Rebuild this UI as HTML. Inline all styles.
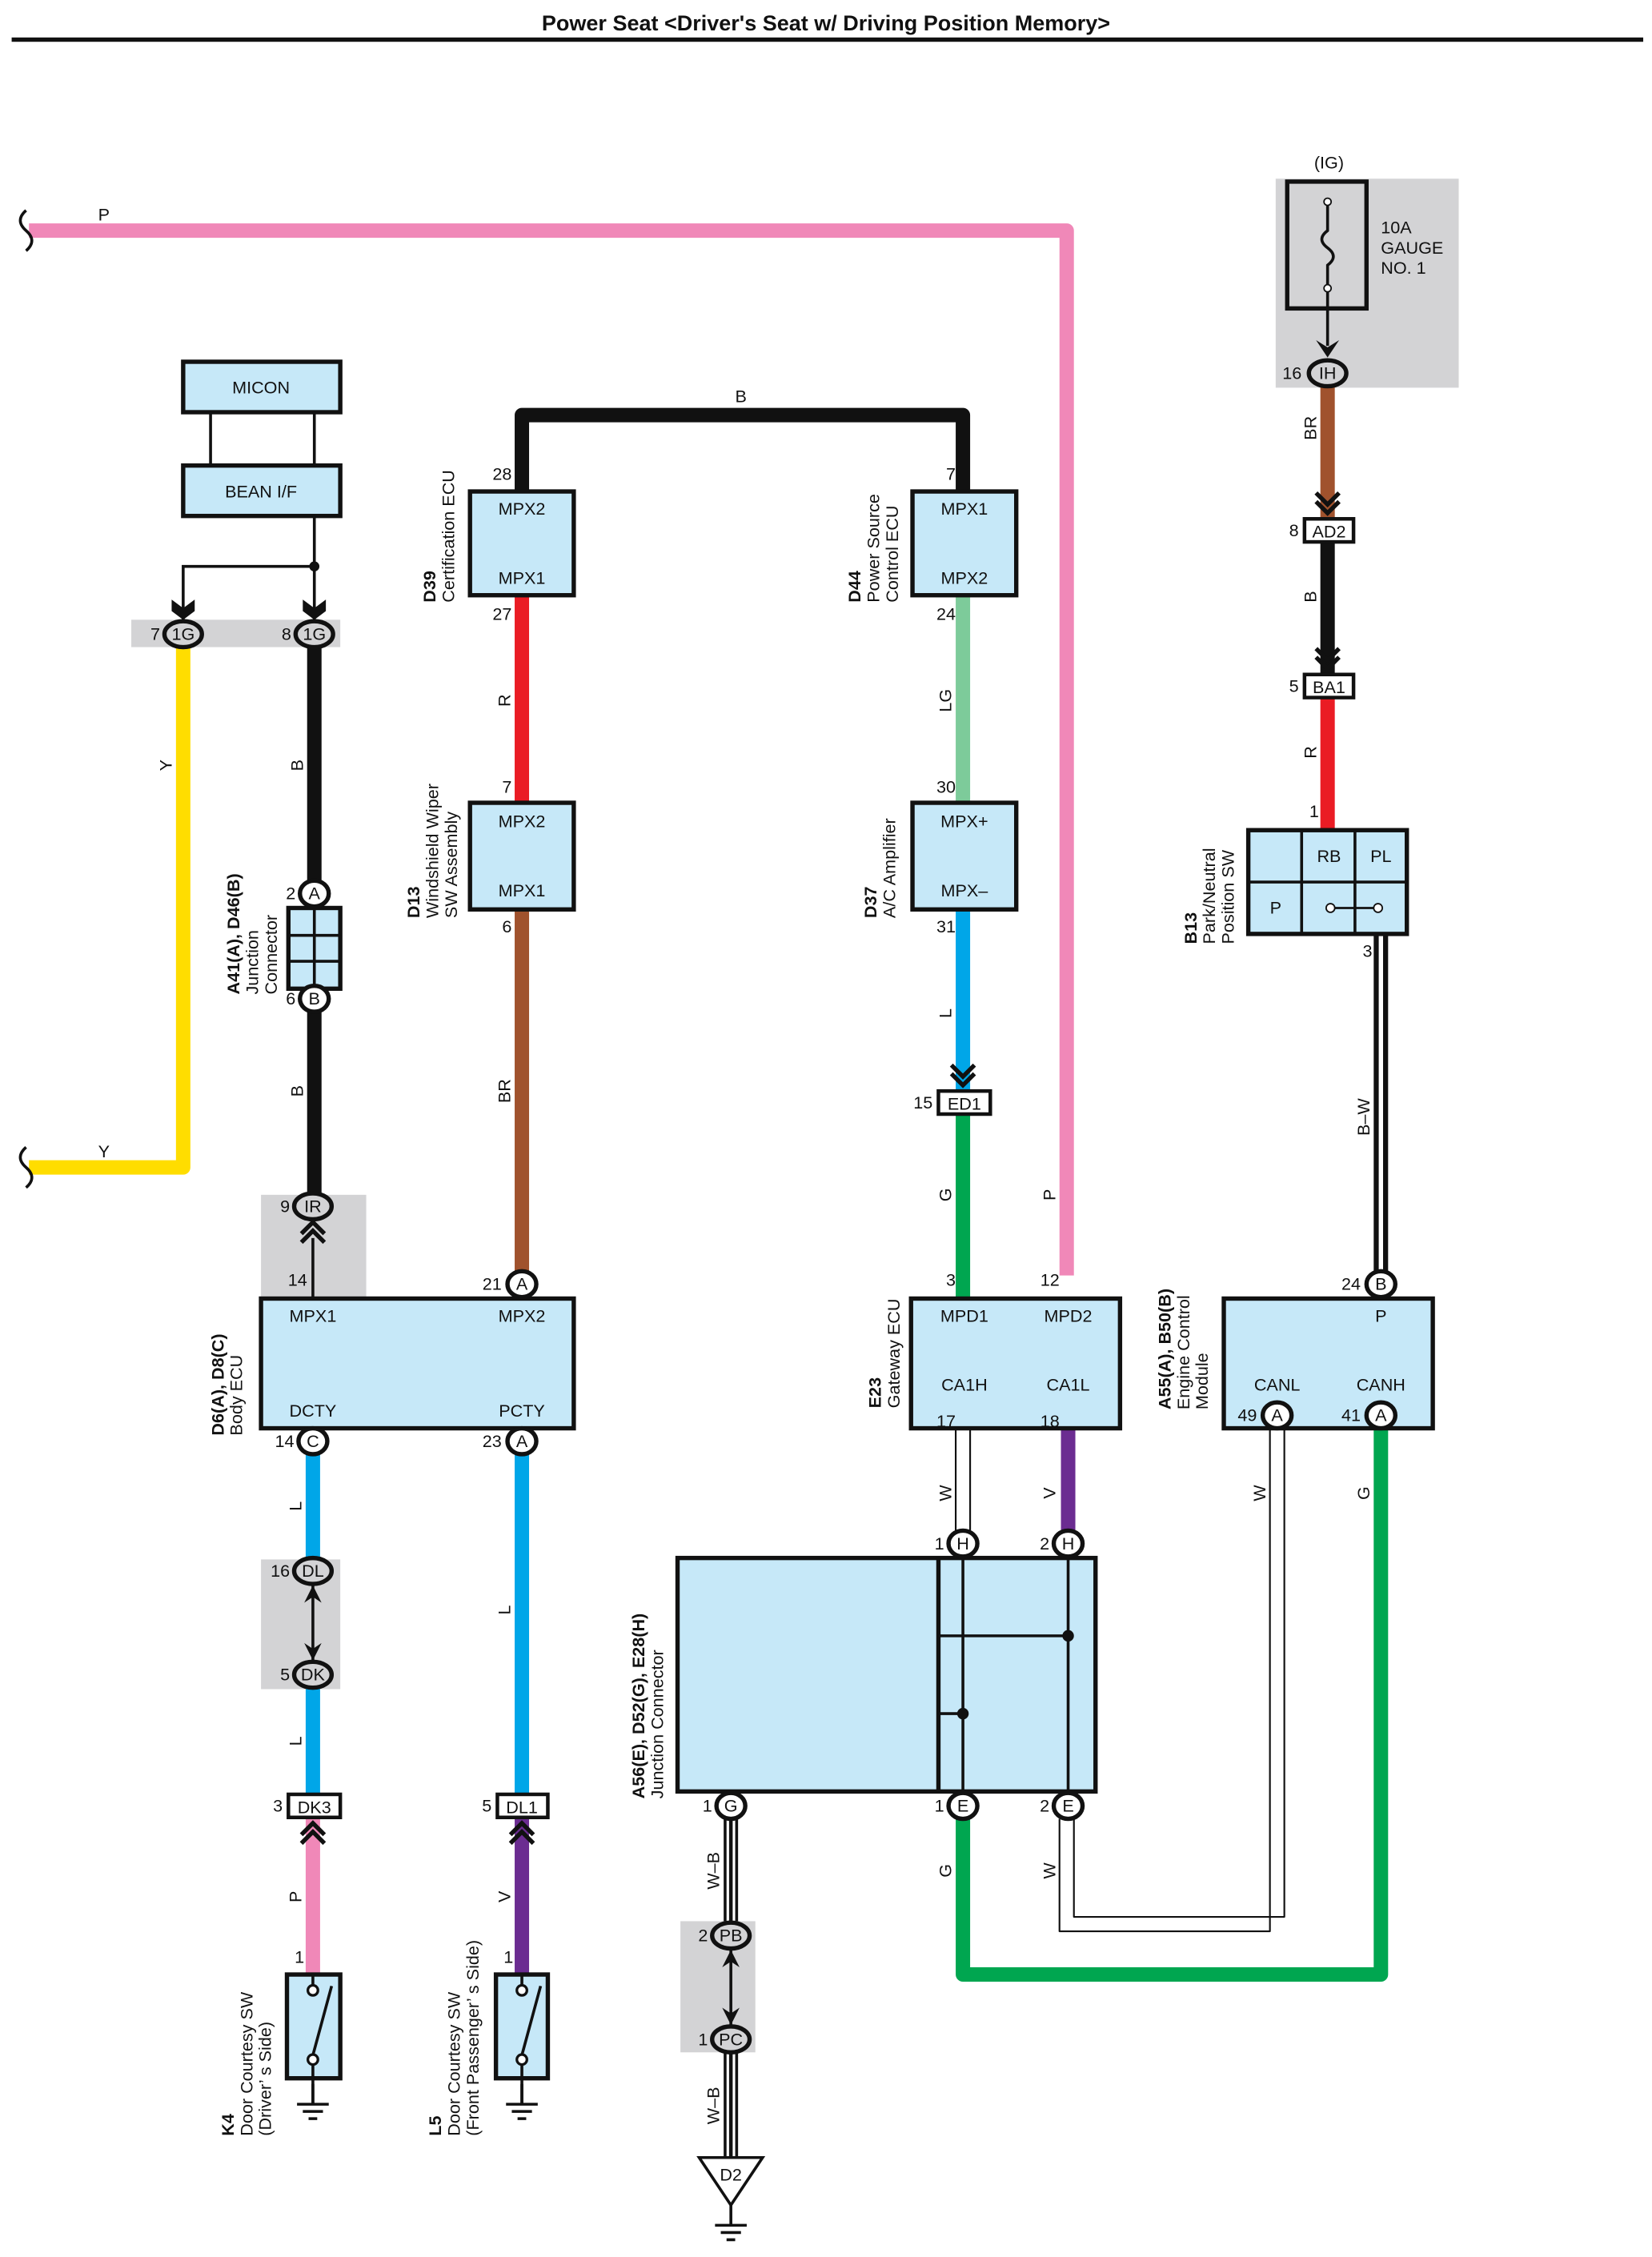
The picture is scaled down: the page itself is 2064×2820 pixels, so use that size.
<!DOCTYPE html>
<html><head><meta charset="utf-8"><style>
html,body{margin:0;padding:0;background:#fff;}
svg{display:block;}
text{font-family:"Liberation Sans",sans-serif;fill:#111;}
</style></head><body>
<svg width="2064" height="2820" viewBox="0 0 1146 1566" xmlns="http://www.w3.org/2000/svg">
<defs>
<g id="chev"><path d="M-8,-14 L0,-6 L8,-14 M-8,-8 L0,0 L8,-8" fill="none" stroke="#111" stroke-width="3"/></g>
<g id="chevU"><path d="M-8,14 L0,6 L8,14 M-8,8 L0,0 L8,8" fill="none" stroke="#111" stroke-width="3"/></g>
<g id="gnd"><path d="M0,0 V14 M-11,14 H11 M-7,19 H7 M-3,24 H3" stroke="#111" stroke-width="2" fill="none"/></g>
</defs>
<rect width="1146" height="1566" fill="#fff"/>
<text x="573" y="21" font-size="15" font-weight="bold" text-anchor="middle">Power Seat &lt;Driver's Seat w/ Driving Position Memory&gt;</text>
<rect x="8" y="26" width="1132" height="3" fill="#111"/>

<rect x="885" y="124" width="127" height="145" fill="#d3d3d5"/>
<rect x="91" y="430" width="145" height="19" fill="#d3d3d5"/>
<rect x="181" y="829" width="73" height="72" fill="#d3d3d5"/>
<rect x="181" y="1082" width="55" height="90" fill="#d3d3d5"/>
<rect x="472" y="1333" width="52" height="91" fill="#d3d3d5"/>

<g fill="none" stroke-linejoin="round" stroke-linecap="butt">
<path d="M20,160 H740 V885" stroke="#f088b8" stroke-width="10"/>
<path d="M362,341 V288 H668 V341" stroke="#111" stroke-width="10"/>
<path d="M362,413 V557" stroke="#ea1c24" stroke-width="10"/>
<path d="M362,631 V885" stroke="#a0522d" stroke-width="10"/>
<path d="M668,413 V557" stroke="#7dcb9a" stroke-width="10"/>
<path d="M668,631 V757" stroke="#00a6e8" stroke-width="10"/>
<path d="M668,773 V901" stroke="#00a650" stroke-width="10"/>
<path d="M741,991 V1062" stroke="#6b2c91" stroke-width="10"/>
<path d="M958,991 V1370 H668 V1262" stroke="#00a650" stroke-width="10"/>
<path d="M921,268 V360" stroke="#a0522d" stroke-width="10"/>
<path d="M921,376 V468" stroke="#111" stroke-width="10"/>
<path d="M921,484 V576" stroke="#ea1c24" stroke-width="10"/>
<path d="M958,648 V885" stroke="#111" stroke-width="10"/>
<path d="M958,648 V885" stroke="#fff" stroke-width="3"/>
<path d="M127,449 V810 H20" stroke="#ffdd00" stroke-width="10"/>
<path d="M218,449 V612" stroke="#111" stroke-width="10"/>
<path d="M218,701 V829" stroke="#111" stroke-width="10"/>
<path d="M217,1009 V1082" stroke="#00a6e8" stroke-width="10"/>
<path d="M217,1172 V1245" stroke="#00a6e8" stroke-width="10"/>
<path d="M217,1261 V1370" stroke="#f088b8" stroke-width="10"/>
<path d="M362,1009 V1245" stroke="#00a6e8" stroke-width="10"/>
<path d="M362,1261 V1370" stroke="#6b2c91" stroke-width="10"/>
<path d="M663,991 V1062 M673,991 V1062" stroke="#111" stroke-width="1.2"/>
<path d="M881,991 V1340 H735 V1262 M891,991 V1330 H745 V1262" stroke="#111" stroke-width="1.2"/>
<path d="M507,1262 V1333 M507,1424 V1497" stroke="#111" stroke-width="10"/>
<path d="M507,1262 V1333 M507,1424 V1497" stroke="#fff" stroke-width="6"/>
<path d="M507,1262 V1333 M507,1424 V1497" stroke="#111" stroke-width="2.5"/>
</g>
<path d="M18,146 Q10,153 18,160 Q26,167 18,174" stroke="#111" stroke-width="2" fill="none"/>
<path d="M18,796 Q10,803 18,810 Q26,817 18,824" stroke="#111" stroke-width="2" fill="none"/>

<g fill="#c6e8f8" stroke="#111" stroke-width="3">
<rect x="127" y="251" width="109" height="35"/>
<rect x="127" y="323" width="109" height="35"/>
<rect x="326" y="341" width="72" height="72"/>
<rect x="326" y="557" width="72" height="74"/>
<rect x="633" y="341" width="72" height="72"/>
<rect x="633" y="557" width="72" height="74"/>
<rect x="181" y="901" width="217" height="90"/>
<rect x="632" y="901" width="145" height="90"/>
<rect x="849" y="901" width="145" height="90"/>
<rect x="866" y="576" width="110" height="72"/>
<rect x="200" y="630" width="36" height="56"/>
<rect x="470" y="1081" width="290" height="162"/>
<rect x="199" y="1370" width="37" height="72"/>
<rect x="344" y="1370" width="36" height="72"/>
</g>
<rect x="893" y="126" width="55" height="88" fill="none" stroke="#111" stroke-width="3"/>
<path d="M921,140 V160 Q913,166 921,172 Q929,178 921,184 V214 L921,240" stroke="#111" stroke-width="2" fill="none"/>
<circle cx="921" cy="140" r="2.5" fill="#fff" stroke="#111"/><circle cx="921" cy="200" r="2.5" fill="#fff" stroke="#111"/>
<path d="M913,236 L921,248 L929,236 L921,241 Z" fill="#111"/>
<g stroke="#111" fill="none">
<path d="M146,286 V323 M218,286 V323" stroke-width="2"/>
<path d="M218,358 V430 M218,393 H127 V430" stroke-width="2"/>
<path d="M903,576 V648 M940,576 V648 M866,612 H976" stroke-width="2"/>
<path d="M923,630 H956" stroke-width="1.5"/>
<path d="M218,630 V686 M200,649 H236 M200,667 H236" stroke-width="2"/>
<path d="M651,1081 V1243" stroke-width="3"/>
<path d="M668,1081 V1243 M741,1081 V1243 M651,1135 H741 M651,1189 H668" stroke-width="2"/>
<path d="M217,859 V901" stroke-width="2"/>
<path d="M217,1098 V1154" stroke-width="2"/>
<path d="M507,1351 V1407" stroke-width="2"/>
</g>
<circle cx="218" cy="393" r="3.5" fill="#111"/>
<circle cx="741" cy="1135" r="4" fill="#111"/>
<circle cx="668" cy="1189" r="4" fill="#111"/>
<circle cx="923" cy="630" r="3" fill="#fff" stroke="#111"/><circle cx="956" cy="630" r="3" fill="#fff" stroke="#111"/>
<path d="M119,416 L127,422 L135,416 L135,424 L127,430 L119,424 Z" fill="#111"/>
<path d="M210,416 L218,422 L226,416 L226,424 L218,430 L210,424 Z" fill="#111"/>
<use href="#chev" x="921" y="356"/>
<use href="#chev" x="921" y="464"/>
<use href="#chev" x="668" y="753"/>
<use href="#chevU" x="217" y="1265"/>
<use href="#chevU" x="362" y="1265"/>
<use href="#chevU" x="217" y="848"/>
<path d="M211,1112 L217,1100 L223,1112 L217,1108Z M211,1140 L217,1152 L223,1140 L217,1144Z" fill="#111"/>
<path d="M501,1365 L507,1353 L513,1365 L507,1361Z M501,1393 L507,1405 L513,1393 L507,1397Z" fill="#111"/>

<g stroke="#111" stroke-width="2" fill="none">
<path d="M217,1370 V1378 M217,1433 V1460 M217,1426 L230,1378"/>
<path d="M362,1370 V1378 M362,1433 V1460 M362,1426 L375,1378"/>
</g>
<g fill="#fff" stroke="#111" stroke-width="1.8">
<circle cx="217" cy="1381" r="3.5"/><circle cx="217" cy="1429" r="3.5"/>
<circle cx="362" cy="1381" r="3.5"/><circle cx="362" cy="1429" r="3.5"/>
</g>
<use href="#gnd" x="217" y="1446"/>
<use href="#gnd" x="362" y="1446"/>
<path d="M485,1497 H529 L507,1530 Z" fill="#fff" stroke="#111" stroke-width="2"/>
<text x="507" y="1513" font-size="12" text-anchor="middle">D2</text>
<use href="#gnd" x="507" y="1530"/>

<g fill="#fff" stroke="#111" stroke-width="2.5">
<rect x="905" y="360" width="34" height="16"/>
<rect x="905" y="468" width="34" height="16"/>
<rect x="651" y="757" width="36" height="16"/>
<rect x="200" y="1245" width="36" height="16"/>
<rect x="345" y="1245" width="35" height="16"/>
</g>
<g font-size="12" text-anchor="middle">
<text x="922" y="373">AD2</text><text x="922" y="481">BA1</text><text x="669" y="770">ED1</text>
<text x="218" y="1258">DK3</text><text x="362" y="1258">DL1</text>
</g>
<g stroke="#111" stroke-width="3">
<g fill="#d3d3d5">
<ellipse cx="127" cy="440" rx="13" ry="9"/><ellipse cx="218" cy="440" rx="13" ry="9"/>
<ellipse cx="921" cy="259" rx="13" ry="9"/><ellipse cx="217" cy="837" rx="13" ry="9"/>
<ellipse cx="217" cy="1090" rx="13" ry="9"/><ellipse cx="217" cy="1162" rx="13" ry="9"/>
<ellipse cx="507" cy="1343" rx="13" ry="9"/><ellipse cx="507" cy="1415" rx="13" ry="9"/>
</g>
<g fill="#fff">
<ellipse cx="218" cy="620" rx="10" ry="9"/><ellipse cx="218" cy="693" rx="10" ry="9"/>
<ellipse cx="362" cy="891" rx="10" ry="9"/><ellipse cx="217" cy="1000" rx="10" ry="9"/><ellipse cx="362" cy="1000" rx="10" ry="9"/>
<ellipse cx="958" cy="891" rx="10" ry="9"/><ellipse cx="886" cy="982" rx="10" ry="9"/><ellipse cx="958" cy="982" rx="10" ry="9"/>
<ellipse cx="668" cy="1071" rx="10" ry="9"/><ellipse cx="741" cy="1071" rx="10" ry="9"/>
<ellipse cx="668" cy="1253" rx="10" ry="9"/><ellipse cx="741" cy="1253" rx="10" ry="9"/><ellipse cx="507" cy="1253" rx="10" ry="9"/>
</g>
</g>
<g font-size="12" text-anchor="middle">
<text x="127" y="444">1G</text><text x="218" y="444">1G</text><text x="921" y="263">IH</text><text x="217" y="841">IR</text>
<text x="217" y="1094">DL</text><text x="217" y="1166">DK</text><text x="507" y="1347">PB</text><text x="507" y="1419">PC</text>
<text x="218" y="624">A</text><text x="218" y="697">B</text><text x="362" y="895">A</text><text x="217" y="1004">C</text><text x="362" y="1004">A</text>
<text x="958" y="895">B</text><text x="886" y="986">A</text><text x="958" y="986">A</text>
<text x="668" y="1075">H</text><text x="741" y="1075">H</text><text x="668" y="1257">E</text><text x="741" y="1257">E</text><text x="507" y="1257">G</text>
</g>
<g font-size="12" text-anchor="end">
<text x="111" y="444">7</text><text x="202" y="444">8</text><text x="903" y="263">16</text><text x="201" y="841">9</text>
<text x="201" y="1094">16</text><text x="201" y="1166">5</text><text x="491" y="1347">2</text><text x="491" y="1419">1</text>
<text x="205" y="624">2</text><text x="205" y="697">6</text><text x="348" y="895">21</text><text x="204" y="1004">14</text><text x="348" y="1004">23</text>
<text x="944" y="895">24</text><text x="872" y="986">49</text><text x="944" y="986">41</text>
<text x="655" y="1075">1</text><text x="728" y="1075">2</text><text x="655" y="1257">1</text><text x="728" y="1257">2</text><text x="494" y="1257">1</text>
<text x="901" y="372">8</text><text x="901" y="480">5</text><text x="647" y="769">15</text><text x="196" y="1257">3</text><text x="341" y="1257">5</text>
<text x="355" y="333">28</text><text x="355" y="430">27</text><text x="355" y="550">7</text><text x="355" y="647">6</text>
<text x="663" y="333">7</text><text x="663" y="430">24</text><text x="663" y="550">30</text><text x="663" y="647">31</text>
<text x="663" y="892">3</text><text x="735" y="892">12</text><text x="663" y="990">17</text><text x="735" y="990">18</text>
<text x="213" y="892">14</text><text x="915" y="567">1</text><text x="952" y="664">3</text>
<text x="211" y="1362">1</text><text x="356" y="1362">1</text>
</g>
<g font-size="12" text-anchor="middle">
<text x="181" y="273">MICON</text><text x="181" y="345">BEAN I/F</text>
<text x="362" y="357">MPX2</text><text x="362" y="405">MPX1</text>
<text x="362" y="574">MPX2</text><text x="362" y="622">MPX1</text>
<text x="669" y="357">MPX1</text><text x="669" y="405">MPX2</text>
<text x="669" y="574">MPX+</text><text x="669" y="622">MPX–</text>
<text x="217" y="917">MPX1</text><text x="362" y="917">MPX2</text><text x="217" y="983">DCTY</text><text x="362" y="983">PCTY</text>
<text x="669" y="917">MPD1</text><text x="741" y="917">MPD2</text><text x="669" y="965">CA1H</text><text x="741" y="965">CA1L</text>
<text x="958" y="917">P</text><text x="886" y="965">CANL</text><text x="958" y="965">CANH</text>
<text x="922" y="598">RB</text><text x="958" y="598">PL</text><text x="885" y="634">P</text>
<text x="922" y="117">(IG)</text>
</g>
<g font-size="12"><text x="958" y="162">10A</text><text x="958" y="176">GAUGE</text><text x="958" y="190">NO. 1</text>
<text x="68" y="153">P</text><text x="68" y="803">Y</text><text x="510" y="279">B</text></g>
<g font-size="12" text-anchor="middle">
<text transform="translate(119,531) rotate(-90)">Y</text>
<text transform="translate(210,531) rotate(-90)">B</text>
<text transform="translate(210,757) rotate(-90)">B</text>
<text transform="translate(354,486) rotate(-90)">R</text>
<text transform="translate(354,757) rotate(-90)">BR</text>
<text transform="translate(660,486) rotate(-90)">LG</text>
<text transform="translate(660,703) rotate(-90)">L</text>
<text transform="translate(660,829) rotate(-90)">G</text>
<text transform="translate(732,829) rotate(-90)">P</text>
<text transform="translate(913,297) rotate(-90)">BR</text>
<text transform="translate(913,414) rotate(-90)">B</text>
<text transform="translate(913,522) rotate(-90)">R</text>
<text transform="translate(950,775) rotate(-90)">B–W</text>
<text transform="translate(660,1036) rotate(-90)">W</text>
<text transform="translate(732,1036) rotate(-90)">V</text>
<text transform="translate(878,1036) rotate(-90)">W</text>
<text transform="translate(950,1036) rotate(-90)">G</text>
<text transform="translate(209,1045) rotate(-90)">L</text>
<text transform="translate(354,1117) rotate(-90)">L</text>
<text transform="translate(209,1208) rotate(-90)">L</text>
<text transform="translate(209,1316) rotate(-90)">P</text>
<text transform="translate(354,1316) rotate(-90)">V</text>
<text transform="translate(660,1298) rotate(-90)">G</text>
<text transform="translate(732,1298) rotate(-90)">W</text>
<text transform="translate(499,1298) rotate(-90)">W–B</text>
<text transform="translate(499,1461) rotate(-90)">W–B</text>
</g>
<g font-size="12">
<g transform="translate(302,418) rotate(-90)"><text font-weight="bold">D39</text><text y="13">Certification ECU</text></g>
<g transform="translate(597,418) rotate(-90)"><text font-weight="bold">D44</text><text y="13">Power Source</text><text y="26">Control ECU</text></g>
<g transform="translate(291,637) rotate(-90)"><text font-weight="bold">D13</text><text y="13">Windshield Wiper</text><text y="26">SW Assembly</text></g>
<g transform="translate(608,637) rotate(-90)"><text font-weight="bold">D37</text><text y="13">A/C Amplifier</text></g>
<g transform="translate(166,690) rotate(-90)"><text font-weight="bold">A41(A), D46(B)</text><text y="13">Junction</text><text y="26">Connector</text></g>
<g transform="translate(830,655) rotate(-90)"><text font-weight="bold">B13</text><text y="13">Park/Neutral</text><text y="26">Position SW</text></g>
<g transform="translate(155,996) rotate(-90)"><text font-weight="bold">D6(A), D8(C)</text><text y="13">Body ECU</text></g>
<g transform="translate(611,977) rotate(-90)"><text font-weight="bold">E23</text><text y="13">Gateway ECU</text></g>
<g transform="translate(812,978) rotate(-90)"><text font-weight="bold">A55(A), B50(B)</text><text y="13">Engine Control</text><text y="26">Module</text></g>
<g transform="translate(447,1248) rotate(-90)"><text font-weight="bold">A56(E), D52(G), E28(H)</text><text y="13">Junction Connector</text></g>
<g transform="translate(162,1482) rotate(-90)"><text font-weight="bold">K4</text><text y="13">Door Courtesy SW</text><text y="26">(Driver’ s Side)</text></g>
<g transform="translate(306,1482) rotate(-90)"><text font-weight="bold">L5</text><text y="13">Door Courtesy SW</text><text y="26">(Front Passenger’ s Side)</text></g>
</g>
</svg>
</body></html>
